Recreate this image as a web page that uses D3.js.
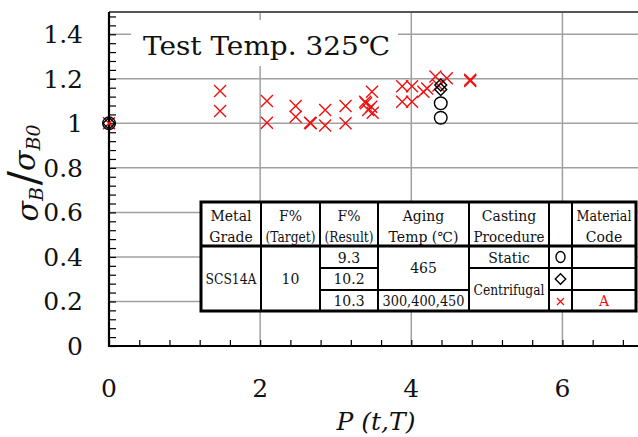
<!DOCTYPE html>
<meta charset="utf-8">
<script src="https://cdn.jsdelivr.net/npm/d3@7"></script>
<style>
  body { margin: 0; background: #fff; }
  .grid { stroke: #a0a0a0; stroke-width: 1.5; }
  .tbl line { stroke: #000; stroke-width: 2; }
</style>
<body>
<script>

// data
var circleX = [0, 4.39, 4.39];
var circleY = [1.0, 1.09, 1.025];

var diamondX = [0, 4.39, 4.39];
var diamondY = [1.0, 1.172, 1.152];

var crossX = [0, 1.47, 1.47, 2.09, 2.09, 2.47, 2.47, 2.66, 2.67, 2.86, 2.86, 3.13, 3.13,
              3.39, 3.40, 3.48, 3.47, 3.43, 3.49, 3.88, 3.88, 4.01, 4.01, 4.16, 4.21,
              4.32, 4.47, 4.36, 4.78, 4.78];
var crossY = [1.0, 1.145, 1.055, 1.10, 1.003, 1.078, 1.03, 1.003, 1.0, 1.06, 0.99, 1.078, 1.0,
              1.097, 1.09, 1.142, 1.075, 1.06, 1.048, 1.167, 1.097, 1.167, 1.097, 1.142, 1.156,
              1.21, 1.202, 1.17, 1.19, 1.196];

var xTicks = [0, 2, 4, 6];
var yTicks = [0, 0.2, 0.4, 0.6, 0.8, 1, 1.2, 1.4];
var yTickLabels = ["0", "0.2", "0.4", "0.6", "0.8", "1", "1.2", "1.4"];

var title = "Test Temp. 325\u2103";

// table contents
var headerTop = ["Metal", "F%", "F%", "Aging", "Casting", "", "Material"];
var headerBottom = ["Grade", "(Target)", "(Result)", "Temp (\u2103)", "Procedure", "", "Code"];
var fResult = ["9.3", "10.2", "10.3"];
var agingTemp = ["465", "300,400,450"];
var casting = ["Static", "Centrifugal"];
var metalGrade = "SCS14A";
var fTarget = "10";
var materialCode = "A";

var serif = "'DejaVu Serif', serif";

var width = 638, height = 437;
var margin = {top: 12, left: 109, bottom: 91};

var svg = d3.select("body").append("svg")
    .attr("width", width)
    .attr("height", height)
    .attr("font-family", serif);

var x = d3.scaleLinear().domain([0, 7]).range([margin.left, width]);
var y = d3.scaleLinear().domain([0, 1.5]).range([height - margin.bottom, margin.top]);

// grid
svg.append("g").selectAll("line")
    .data(xTicks.filter(d => d > 0))
    .join("line")
    .attr("class", "grid")
    .attr("x1", d => x(d)).attr("x2", d => x(d))
    .attr("y1", y(0)).attr("y2", y(1.5));

svg.append("g").selectAll("line")
    .data(yTicks.filter(d => d > 0))
    .join("line")
    .attr("class", "grid")
    .attr("x1", x(0)).attr("x2", x(7))
    .attr("y1", d => y(d)).attr("y2", d => y(d));

// top frame
svg.append("line")
    .attr("x1", x(0)).attr("x2", x(7))
    .attr("y1", y(1.5)).attr("y2", y(1.5))
    .style("stroke", "#555").style("stroke-width", 2);

// minor ticks, pointing inward
var xAxis = d3.axisTop(x).tickValues(d3.range(0, 7.01, 0.4)).tickSize(6).tickFormat("");
svg.append("g")
    .attr("transform", `translate(0,${y(0)})`)
    .call(xAxis)
    .call(g => g.select(".domain").remove())
    .call(g => g.selectAll(".tick line").style("stroke", "#000").style("stroke-width", 1.2));

var yAxis = d3.axisRight(y).tickValues(d3.range(0, 1.501, 0.04)).tickSize(7).tickFormat("");
svg.append("g")
    .attr("transform", `translate(${x(0)},0)`)
    .call(yAxis)
    .call(g => g.select(".domain").remove())
    .call(g => g.selectAll(".tick line").style("stroke", "#000").style("stroke-width", 1.2));

// axis lines
svg.append("line")
    .attr("x1", x(0)).attr("x2", x(0))
    .attr("y1", y(0) + 1).attr("y2", y(1.5))
    .style("stroke", "#000").style("stroke-width", 2.2);
svg.append("line")
    .attr("x1", x(0)).attr("x2", x(7))
    .attr("y1", y(0)).attr("y2", y(0))
    .style("stroke", "#000").style("stroke-width", 2.2);

// tick labels
svg.append("g").selectAll("text")
    .data(yTicks)
    .join("text")
    .attr("x", 83)
    .attr("y", d => y(d) + 9)
    .attr("text-anchor", "end")
    .style("font-family", serif)
    .style("font-size", "25px")
    .style("fill", "#111")
    .text((d, i) => yTickLabels[i]);

svg.append("g").selectAll("text")
    .data(xTicks)
    .join("text")
    .attr("x", d => x(d))
    .attr("y", 397)
    .attr("text-anchor", "middle")
    .style("font-family", serif)
    .style("font-size", "25px")
    .style("fill", "#111")
    .text(d => d);

// axis titles
svg.append("text")
    .attr("x", 376)
    .attr("y", 430)
    .attr("text-anchor", "middle")
    .style("font-family", serif)
    .style("font-size", "25px")
    .style("font-style", "italic")
    .style("fill", "#111")
    .text("P (t,T)");

var yl = svg.append("text")
    .attr("transform", "translate(38,173) rotate(-90)")
    .attr("text-anchor", "middle")
    .style("font-family", serif)
    .style("font-style", "italic")
    .style("font-size", "30px")
    .style("fill", "#111");
yl.append("tspan").text("\u03c3");
yl.append("tspan").attr("dy", 5).style("font-size", "19px").text("B");
yl.append("tspan").attr("dy", -5).attr("dx", 2).style("font-size", "42px").style("font-style", "normal").text("/");
yl.append("tspan").attr("dy", -3).text("\u03c3");
yl.append("tspan").attr("dy", 5).style("font-size", "19px").text("B0");

// title box
svg.append("rect")
    .attr("x", 131).attr("y", 20)
    .attr("width", 267).attr("height", 46)
    .style("fill", "#fff");
svg.append("text")
    .attr("x", 143).attr("y", 55)
    .attr("textLength", 247)
    .attr("lengthAdjust", "spacingAndGlyphs")
    .style("font-family", serif)
    .style("font-size", "26px")
    .style("fill", "#111")
    .text(title);

// markers
var pts = svg.append("g");

pts.selectAll(".cx")
    .data(crossX.map((d, i) => [d, crossY[i]]))
    .join("path")
    .attr("class", "cx")
    .attr("transform", d => `translate(${x(d[0])},${y(d[1])})`)
    .attr("d", "M-6,-6L6,6M-6,6L6,-6")
    .style("stroke", "#f01010").style("stroke-width", 1.4).style("fill", "none");

pts.selectAll(".ci")
    .data(circleX.map((d, i) => [d, circleY[i]]))
    .join("circle")
    .attr("class", "ci")
    .attr("cx", d => x(d[0])).attr("cy", d => y(d[1]))
    .attr("r", 6.3)
    .style("fill", "none").style("stroke", "#000").style("stroke-width", 1.4);

pts.selectAll(".di")
    .data(diamondX.map((d, i) => [d, diamondY[i]]))
    .join("path")
    .attr("class", "di")
    .attr("transform", d => `translate(${x(d[0])},${y(d[1])})`)
    .attr("d", d3.symbol(d3.symbolDiamond2, 90))
    .style("fill", "none").style("stroke", "#000").style("stroke-width", 1.4);

// table
var colX = [201, 261, 320, 378, 469, 549, 572, 636];
var rowY = [202, 246, 268, 290, 311];
var tbl = svg.append("g").attr("class", "tbl");

tbl.append("rect")
    .attr("x", colX[0]).attr("y", rowY[0])
    .attr("width", colX[7] - colX[0]).attr("height", rowY[4] - rowY[0])
    .style("fill", "#fff");

tbl.selectAll(".v")
    .data(colX.slice(1, 7))
    .join("line")
    .attr("x1", d => d).attr("x2", d => d)
    .attr("y1", rowY[0]).attr("y2", rowY[4]);

var hSegs = [[colX[2], colX[3], rowY[2]], [colX[4], colX[7], rowY[2]],
             [colX[2], colX[4], rowY[3]], [colX[5], colX[7], rowY[3]]];
tbl.selectAll(".h")
    .data(hSegs)
    .join("line")
    .attr("x1", d => d[0]).attr("x2", d => d[1])
    .attr("y1", d => d[2]).attr("y2", d => d[2]);

tbl.append("line")
    .attr("x1", colX[0]).attr("x2", colX[7])
    .attr("y1", rowY[1]).attr("y2", rowY[1])
    .style("stroke-width", 3);

tbl.append("rect")
    .attr("x", colX[0]).attr("y", rowY[0])
    .attr("width", colX[7] - colX[0]).attr("height", rowY[4] - rowY[0])
    .style("fill", "none").style("stroke", "#000").style("stroke-width", 3);

function cellText(txt, c0, c1, yy, color) {
    var t = tbl.append("text")
        .attr("x", (colX[c0] + colX[c1]) / 2)
        .attr("y", yy)
        .attr("text-anchor", "middle")
        .style("font-family", serif)
        .style("font-size", "14px")
        .style("fill", color || "#111")
        .text(txt);
    // squeeze text that would touch the cell borders
    var maxW = colX[c1] - colX[c0] - 9;
    if (txt && t.node().getComputedTextLength() > maxW) {
        t.attr("textLength", maxW).attr("lengthAdjust", "spacingAndGlyphs");
    }
}

headerTop.forEach((t, i) => cellText(t, i, i + 1, 221));
headerBottom.forEach((t, i) => cellText(t, i, i + 1, 242));
cellText(metalGrade, 0, 1, 284);
cellText(fTarget, 1, 2, 284);
fResult.forEach((t, i) => cellText(t, 2, 3, [263, 284, 306][i]));
cellText(agingTemp[0], 3, 4, 273);
cellText(agingTemp[1], 3, 4, 306);
cellText(casting[0], 4, 5, 263);
cellText(casting[1], 4, 5, 295);
cellText(materialCode, 6, 7, 306, "#f01010");

// legend symbols in table
var sx = (colX[5] + colX[6]) / 2;
tbl.append("ellipse")
    .attr("cx", sx).attr("cy", (rowY[1] + rowY[2]) / 2)
    .attr("rx", 4.5).attr("ry", 5.5)
    .style("fill", "none").style("stroke", "#000").style("stroke-width", 1.4);
tbl.append("path")
    .attr("transform", `translate(${sx},${(rowY[2] + rowY[3]) / 2})`)
    .attr("d", d3.symbol(d3.symbolDiamond2, 70))
    .style("fill", "none").style("stroke", "#000").style("stroke-width", 1.4);
tbl.append("path")
    .attr("transform", `translate(${sx},${(rowY[3] + rowY[4]) / 2 + 1})`)
    .attr("d", "M-3.5,-3.5L3.5,3.5M-3.5,3.5L3.5,-3.5")
    .style("stroke", "#f01010").style("stroke-width", 1.3);

</script>
</body>
</html>
